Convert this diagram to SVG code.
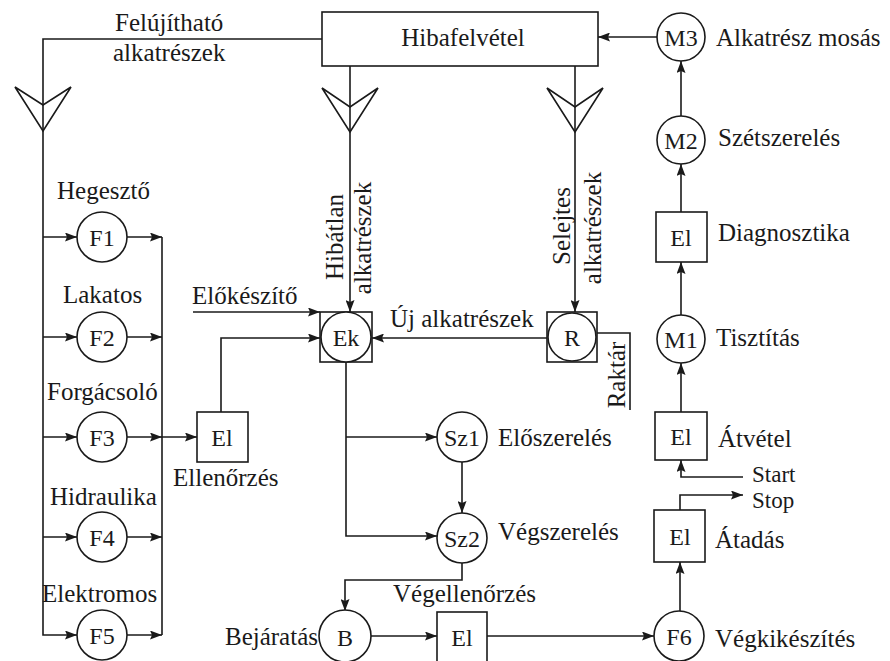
<svg xmlns="http://www.w3.org/2000/svg" width="890" height="661" viewBox="0 0 890 661">
  <style>
    .ln { fill: none; stroke: #1a1a1a; stroke-width: 1.6; }
    .arr { fill: none; stroke: #1a1a1a; stroke-width: 1.6; marker-end: url(#ah); }
    .shape { fill: #fff; stroke: #1a1a1a; stroke-width: 1.6; }
    .chev { fill: none; stroke: #1a1a1a; stroke-width: 1.6; stroke-linejoin: miter; }
    text { font-family: "Liberation Serif", "Times New Roman", serif; font-size: 25px; fill: #1a1a1a; }
    .n { font-size: 24px; }
    .s { font-size: 23px; }
    .c { text-anchor: middle; }
    .e { text-anchor: end; }
  </style>
  <defs>
    <marker id="ah" viewBox="0 0 12 9" refX="12" refY="4.5" markerWidth="12" markerHeight="9" markerUnits="userSpaceOnUse" orient="auto">
      <path d="M0,0 L12,4.5 L0,9 L2,4.5 z" fill="#1a1a1a"/>
    </marker>
  </defs>
  <rect width="890" height="661" fill="#fff"/>

  <!-- connectors -->
  <g id="connectors">
    <!-- reusable parts back to the repair workshops -->
    <path class="arr" d="M322,39 H43 V635 H77"/>
    <polygon class="chev" points="15,87 43,105 71,87 43,131"/>
    <path class="arr" d="M43,237 H77"/>
    <path class="arr" d="M43,337 H77"/>
    <path class="arr" d="M43,437 H77"/>
    <path class="arr" d="M43,537 H77"/>
    <!-- workshop outputs -->
    <path class="arr" d="M127,237 H162"/>
    <path class="arr" d="M127,337 H162"/>
    <path class="arr" d="M127,437 H162"/>
    <path class="arr" d="M127,537 H162"/>
    <path class="arr" d="M127,635 H162"/>
    <path class="ln" d="M162,237 V635"/>
    <path class="arr" d="M162,437 H197"/>
    <!-- inspection to preparation -->
    <path class="arr" d="M221,412 V338 H320"/>
    <path class="arr" d="M193,312 H320"/>
    <!-- faultless and scrap parts -->
    <path class="arr" d="M350,66 V312"/>
    <polygon class="chev" points="322,88 350,107 378,88 350,132"/>
    <path class="arr" d="M575,66 V312"/>
    <polygon class="chev" points="547,88 575,107 603,88 575,132"/>
    <!-- new parts from stock -->
    <path class="arr" d="M547,338 H372"/>
    <path class="ln" d="M597,333 H630 V410"/>
    <!-- assembly -->
    <path class="arr" d="M346,362 V536 H437"/>
    <path class="arr" d="M346,437 H437"/>
    <path class="arr" d="M462,462 V513"/>
    <path class="arr" d="M462,563 V580 H345 V611"/>
    <path class="arr" d="M370,636 H437"/>
    <path class="arr" d="M487,636 H654"/>
    <!-- finishing and hand-over -->
    <path class="arr" d="M680,611 V562"/>
    <path class="arr" d="M680,510 V495 H743"/>
    <path class="arr" d="M743,477 H681 V460"/>
    <!-- intake chain -->
    <path class="arr" d="M681,412 V363"/>
    <path class="arr" d="M681,315 V262"/>
    <path class="arr" d="M681,212 V164"/>
    <path class="arr" d="M681,116 V61"/>
    <path class="arr" d="M658,37 H598"/>
  </g>

  <!-- nodes -->
  <g id="hibafelvetel">
    <rect class="shape" x="322" y="12" width="276" height="54"/>
    <text class="c" x="463" y="46">Hibafelvétel</text>
  </g>
  <g id="m3">
    <circle class="shape" cx="681" cy="37" r="24"/>
    <text class="c n" x="681" y="46">M3</text>
    <text x="716" y="46">Alkatrész mosás</text>
  </g>
  <g id="m2">
    <circle class="shape" cx="681" cy="140" r="24"/>
    <text class="c n" x="681" y="149">M2</text>
    <text x="718" y="146">Szétszerelés</text>
  </g>
  <g id="diagnosztika">
    <rect class="shape" x="656" y="212" width="51" height="50"/>
    <text class="c n" x="681" y="246">El</text>
    <text x="718" y="241">Diagnosztika</text>
  </g>
  <g id="m1">
    <circle class="shape" cx="681" cy="339" r="24"/>
    <text class="c n" x="681" y="348">M1</text>
    <text x="716" y="346">Tisztítás</text>
  </g>
  <g id="atvetel">
    <rect class="shape" x="655" y="412" width="52" height="48"/>
    <text class="c n" x="681" y="445">El</text>
    <text x="718" y="447">Átvétel</text>
  </g>
  <g id="start">
    <text class="s" x="752" y="482">Start</text>
  </g>
  <g id="stop">
    <text class="s" x="752" y="508">Stop</text>
  </g>
  <g id="atadas">
    <rect class="shape" x="654" y="510" width="51" height="52"/>
    <text class="c n" x="680" y="545">El</text>
    <text x="715" y="548">Átadás</text>
  </g>
  <g id="f6">
    <circle class="shape" cx="679" cy="636" r="25"/>
    <text class="c n" x="679" y="645">F6</text>
    <text x="715" y="647">Végkikészítés</text>
  </g>

  <g id="f1">
    <text x="57" y="199">Hegesztő</text>
    <circle class="shape" cx="102" cy="237" r="25"/>
    <text class="c n" x="102" y="246">F1</text>
  </g>
  <g id="f2">
    <text x="63" y="303">Lakatos</text>
    <circle class="shape" cx="102" cy="337" r="25"/>
    <text class="c n" x="102" y="346">F2</text>
  </g>
  <g id="f3">
    <text x="47" y="400">Forgácsoló</text>
    <circle class="shape" cx="102" cy="437" r="25"/>
    <text class="c n" x="102" y="446">F3</text>
  </g>
  <g id="f4">
    <text x="50" y="505">Hidraulika</text>
    <circle class="shape" cx="102" cy="537" r="25"/>
    <text class="c n" x="102" y="546">F4</text>
  </g>
  <g id="f5">
    <text x="42" y="602">Elektromos</text>
    <circle class="shape" cx="102" cy="635" r="25"/>
    <text class="c n" x="102" y="644">F5</text>
  </g>

  <g id="ellenorzes">
    <rect class="shape" x="197" y="412" width="51" height="50"/>
    <text class="c n" x="222" y="446">El</text>
    <text x="173" y="486">Ellenőrzés</text>
  </g>

  <g id="ek">
    <rect class="shape" x="320" y="312" width="52" height="50"/>
    <circle class="shape" cx="346" cy="337" r="25"/>
    <text class="c n" x="346" y="346">Ek</text>
  </g>
  <g id="r">
    <rect class="shape" x="547" y="312" width="50" height="50"/>
    <circle class="shape" cx="572" cy="337" r="24"/>
    <text class="c n" x="572" y="346">R</text>
  </g>

  <g id="sz1">
    <circle class="shape" cx="462" cy="437" r="25"/>
    <text class="c n" x="462" y="446">Sz1</text>
    <text x="498" y="446">Előszerelés</text>
  </g>
  <g id="sz2">
    <circle class="shape" cx="462" cy="538" r="25"/>
    <text class="c n" x="462" y="547">Sz2</text>
    <text x="498" y="540">Végszerelés</text>
  </g>
  <g id="b">
    <circle class="shape" cx="345" cy="636" r="26"/>
    <text class="c n" x="345" y="646">B</text>
    <text class="e" x="318" y="645">Bejáratás</text>
  </g>
  <g id="vegellenorzes">
    <rect class="shape" x="437" y="612" width="50" height="50"/>
    <text class="c n" x="462" y="646">El</text>
    <text x="393" y="602">Végellenőrzés</text>
  </g>

  <!-- flow labels -->
  <g id="labels">
    <text x="115" y="31">Felújítható</text>
    <text x="113" y="61">alkatrészek</text>
    <text x="192" y="304">Előkészítő</text>
    <text x="390" y="327">Új alkatrészek</text>
    <text class="c" transform="translate(343,237) rotate(-90)">Hibátlan</text>
    <text class="c" transform="translate(371,238) rotate(-90)">alkatrészek</text>
    <text class="c" transform="translate(570,226) rotate(-90)">Selejtes</text>
    <text class="c" transform="translate(601,228) rotate(-90)">alkatrészek</text>
    <text class="c" transform="translate(625,375) rotate(-90)">Raktár</text>
  </g>
</svg>
